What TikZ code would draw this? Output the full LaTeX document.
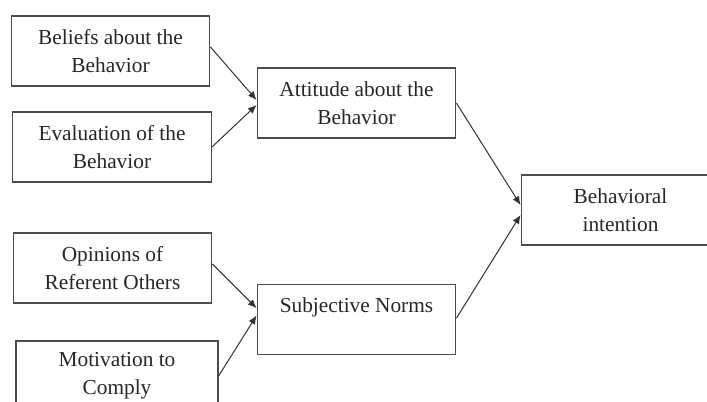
\documentclass[tikz,border=0pt]{standalone}
\usepackage{fontspec}
\setmainfont{Liberation Serif}
\usetikzlibrary{arrows.meta}
\begin{document}
\begin{tikzpicture}[x=0.75pt,y=-0.75pt,
  box/.style={draw=black!70, line width=0.9pt, minimum width=149pt, minimum height=52.5pt,
    inner sep=0pt, align=center, text=black!85,
    font=\fontsize{16}{21}\selectfont},
  conn/.style={draw=black!80, line width=0.75pt, -{Latex[length=6.5pt,width=5.5pt]}}]
\useasboundingbox (0,0) rectangle (707,401);
\clip (0,0) rectangle (707,401);
\node[box] (bel) at (110.5,51) {Beliefs about the\\Behavior};
\node[box] (eva) at (112,147) {Evaluation of the\\Behavior};
\node[box] (opi) at (112.5,268) {Opinions of\\Referent Others};
\node[box, minimum width=151.5pt] (mot) at (117,376) {Motivation to\\Comply};
\node[box] (att) at (356.5,103) {Attitude about the\\Behavior};
\node[box] (sub) at (356.5,319.5) {Subjective Norms\\\mbox{}};
\node[box] (beh) at (620.5,210) {Behavioral\\intention};
\draw[conn] ([yshift=3pt]bel.east) -- ([yshift=2.25pt]att.west);
\draw[conn] (eva.east) -- ([yshift=-1.5pt]att.west);
\draw[conn] ([yshift=3pt]opi.east) -- ([yshift=8.5pt]sub.west);
\draw[conn] (mot.east) -- ([yshift=3pt]sub.west);
\draw[conn] (att.east) -- ([yshift=3.75pt]beh.west);
\draw[conn] ([yshift=1pt]sub.east) -- ([yshift=-3.75pt]beh.west);
\end{tikzpicture}
\end{document}
